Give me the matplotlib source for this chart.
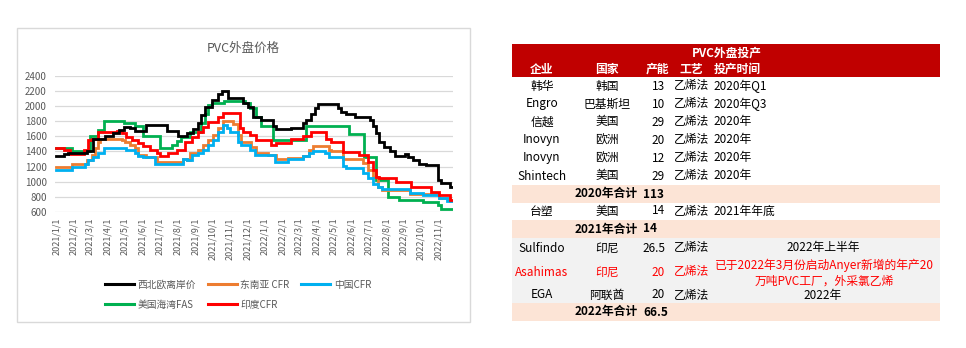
import matplotlib.pyplot as plt
import pandas as pd
from matplotlib.patches import Rectangle
from matplotlib.lines import Line2D

plt.rcParams['font.family'] = ['Noto Sans CJK SC', 'DejaVu Sans']

# ---- chart data: step series (days after 2021-01-01, price) ----
start = pd.Timestamp('2021-01-01')
end_day = 693

black_day = [0, 13, 21, 54, 65, 85, 100, 110, 118, 129, 138, 158, 193, 213, 228, 240, 248, 254, 260, 272,
             283, 290, 301, 327, 336, 344, 359, 379, 385, 411, 432, 437, 446, 452, 458, 493, 499, 507,
             522, 548, 554, 560, 565, 574, 583, 592, 610, 615, 624, 635, 647, 667, 673, 688]
black_val = [1340, 1365, 1380, 1400, 1560, 1600, 1640, 1680, 1725, 1705, 1665, 1755, 1670, 1610, 1640, 1700,
             1780, 1880, 1990, 2080, 2160, 2200, 2100, 2040, 1990, 1860, 1810, 1730, 1690, 1705, 1770, 1810,
             1900, 1970, 2025, 1970, 1925, 1890, 1860, 1810, 1730, 1640, 1530, 1460, 1400, 1340, 1360, 1330,
             1285, 1240, 1220, 1020, 980, 930]

orange_day = [0, 27, 54, 62, 68, 74, 77, 115, 120, 129, 138, 144, 158, 176, 222, 228, 234, 248, 257, 266,
              275, 283, 292, 309, 318, 324, 341, 350, 371, 385, 405, 432, 443, 449, 477, 481, 501, 536,
              545, 554, 563, 569, 618, 670, 688]
orange_val = [1200, 1240, 1285, 1350, 1440, 1530, 1570, 1550, 1530, 1485, 1440, 1350, 1320, 1265, 1305, 1290,
              1385, 1420, 1485, 1550, 1615, 1705, 1805, 1760, 1615, 1530, 1460, 1385, 1350, 1295, 1310, 1340,
              1420, 1470, 1425, 1405, 1295, 1250, 1150, 1065, 935, 890, 835, 790, 750]

blue_day = [0, 27, 51, 56, 65, 74, 83, 123, 138, 144, 152, 173, 222, 228, 237, 248, 257, 266, 275, 283,
            292, 298, 304, 318, 324, 339, 347, 382, 405, 432, 443, 449, 470, 478, 501, 507, 536, 545,
            554, 563, 569, 618, 641, 670, 684]
blue_val = [1160, 1195, 1240, 1285, 1330, 1385, 1440, 1420, 1375, 1340, 1320, 1235, 1305, 1285, 1350, 1385,
            1420, 1485, 1550, 1660, 1755, 1705, 1650, 1530, 1485, 1420, 1350, 1265, 1295, 1340, 1375, 1405,
            1375, 1330, 1205, 1175, 1110, 1045, 975, 935, 900, 845, 825, 790, 750]

green_day = [0, 27, 59, 74, 83, 118, 138, 152, 182, 202, 211, 219, 234, 254, 260, 266, 272, 293, 331, 339,
             350, 359, 379, 437, 513, 539, 560, 580, 600, 641, 667, 673]
green_val = [1450, 1405, 1600, 1680, 1800, 1770, 1735, 1605, 1450, 1480, 1540, 1595, 1660, 1770, 1900, 2010,
             2035, 2065, 2035, 1970, 1860, 1730, 1550, 1740, 1625, 1325, 1020, 800, 760, 735, 690, 645]

red_day = [0, 13, 24, 48, 56, 62, 74, 106, 115, 123, 132, 144, 152, 164, 176, 182, 196, 211, 225, 237,
           248, 257, 266, 283, 292, 321, 327, 339, 350, 376, 385, 411, 432, 446, 472, 481, 501, 530,
           545, 554, 560, 565, 594, 621, 655, 670, 688]
red_val = [1440, 1420, 1365, 1420, 1550, 1570, 1660, 1675, 1640, 1595, 1550, 1505, 1470, 1425, 1375, 1340,
           1375, 1425, 1530, 1595, 1660, 1725, 1790, 1850, 1910, 1705, 1660, 1615, 1550, 1485, 1505, 1560,
           1605, 1660, 1570, 1530, 1395, 1350, 1265, 1155, 1065, 1045, 1000, 935, 865, 825, 760]

series = [
    ('西北欧离岸价', black_day, black_val, '#000000'),
    ('东南亚 CFR', orange_day, orange_val, '#ED7D31'),
    ('中国CFR', blue_day, blue_val, '#00B0F0'),
    ('美国海湾FAS', green_day, green_val, '#00B050'),
    ('印度CFR', red_day, red_val, '#FF0000'),
]
draw_order = [3, 1, 2, 4, 0]

# ---- table data ----
companies = ['韩华', 'Engro', '信越', 'Inovyn', 'Inovyn', 'Shintech']
countries = ['韩国', '巴基斯坦', '美国', '欧洲', '欧洲', '美国']
capacity = ['13', '10', '29', '20', '12', '29']
process = ['乙烯法'] * 6
times = ['2020年Q1', '2020年Q3', '2020年', '2020年', '2020年', '2020年']

W, H = 966, 348
fig = plt.figure(figsize=(W / 100, H / 100), dpi=100)

# overlay in pixel coords for box + table
ov = fig.add_axes([0, 0, 1, 1], zorder=0)
ov.set_xlim(0, W)
ov.set_ylim(H, 0)
ov.axis('off')

ov.add_patch(Rectangle((17, 28), 453, 294, fill=False, ec='#D9D9D9', lw=1))
ov.text(243, 48, 'PVC外盘价格', ha='center', va='center', fontsize=9, color='#595959')

# chart
ax = fig.add_axes([55 / W, (H - 212) / H, (453 - 55) / W, (212 - 75.7) / H], zorder=1)
ax.set_facecolor('none')
for i in draw_order:
    name, d, v, c = series[i]
    dates = list(start + pd.to_timedelta(d, unit='D')) + [start + pd.Timedelta(days=end_day)]
    vals = list(v) + [v[-1]]
    ax.plot(dates, vals, drawstyle='steps-post', color=c, lw=2.0, label=name, solid_joinstyle='miter')

ax.set_ylim(600, 2400)
ax.set_yticks(range(600, 2401, 200))
ax.set_xlim(start - pd.Timedelta(days=2), start + pd.Timedelta(days=end_day + 1))
months = pd.date_range('2021-01-01', '2022-11-01', freq='MS')
ax.set_xticks(months)
ax.set_xticklabels([f'{m.year}/{m.month}/1' for m in months], rotation=90, fontsize=6.5, color='#595959')
ax.tick_params(axis='y', labelsize=7, labelcolor='#595959', length=0, pad=6)
ax.tick_params(axis='x', length=0, pad=4)
ax.grid(axis='y', color='#D9D9D9', lw=0.9)
ax.set_axisbelow(True)
for s in ax.spines.values():
    s.set_visible(False)

handles = [Line2D([], [], color=s[3], lw=2.2) for s in series]
order = [0, 3, 1, 4, 2]
fig.legend([handles[i] for i in order], [series[i][0] for i in order], ncol=3,
           loc='upper left', bbox_to_anchor=(100 / W, 1 - 275 / H), frameon=False,
           fontsize=7, handlelength=3.0, handletextpad=0.35, columnspacing=1.2,
           labelspacing=1.0, borderpad=0, labelcolor='#595959')

# ---- table ----
x0, x1 = 512, 940
fs = 8.5
red_bg = '#C00000'
peach = '#FCE4D6'
grey = '#F2F2F2'

ov.add_patch(Rectangle((x0, 44), x1 - x0, 33, color=red_bg, lw=0))
ov.text(727, 53, 'PVC外盘投产', ha='center', va='center', fontsize=fs, color='white', weight='bold')
for t, xc in [('企业', 542), ('国家', 607), ('产能', 657), ('工艺', 691), ('投产时间', 737)]:
    ov.text(xc, 69, t, ha='center', va='center', fontsize=fs, color='white', weight='bold')

def data_row(yc, comp, ctry, cap, proc, color='black'):
    ov.text(542, yc, comp, ha='center', va='center', fontsize=fs, color=color)
    ov.text(607, yc, ctry, ha='center', va='center', fontsize=fs, color=color)
    ov.text(665, yc, cap, ha='right', va='center', fontsize=fs, color=color)
    ov.text(674, yc, proc, ha='left', va='center', fontsize=fs, color=color)

for i in range(6):
    yc = 77 + 18 * i + 9
    data_row(yc, companies[i], countries[i], capacity[i], process[i])
    ov.text(713, yc, times[i], ha='left', va='center', fontsize=fs)

def total_row(y, label, num):
    ov.add_patch(Rectangle((x0, y), x1 - x0, 18, color=peach, lw=0))
    ov.text(606, y + 9, label, ha='center', va='center', fontsize=fs, weight='bold')
    ov.text(643, y + 9, num, ha='left', va='center', fontsize=fs, weight='bold')

total_row(185, '2020年合计', '113')
data_row(211, '台塑', '美国', '14', '乙烯法')
ov.text(713, 211, '2021年年底', ha='left', va='center', fontsize=fs)
total_row(220, '2021年合计', '14')

ov.add_patch(Rectangle((x0, 238), x1 - x0, 65, color=grey, lw=0))
data_row(248, 'Sulfindo', '印尼', '26.5', '乙烯法')
data_row(272, 'Asahimas', '印尼', '20', '乙烯法', color='#FF0000')
data_row(295, 'EGA', '阿联酋', '20', '乙烯法')
ov.text(823, 247, '2022年上半年', ha='center', va='center', fontsize=fs)
ov.text(824, 265, '已于2022年3月份启动Anyer新增的年产20', ha='center', va='center', fontsize=fs, color='#FF0000')
ov.text(824, 281, '万吨PVC工厂，外采氯乙烯', ha='center', va='center', fontsize=fs, color='#FF0000')
ov.text(823, 295, '2022年', ha='center', va='center', fontsize=fs)
total_row(303, '2022年合计', '66.5')

fig.savefig('out.png', dpi=100, facecolor='white')
